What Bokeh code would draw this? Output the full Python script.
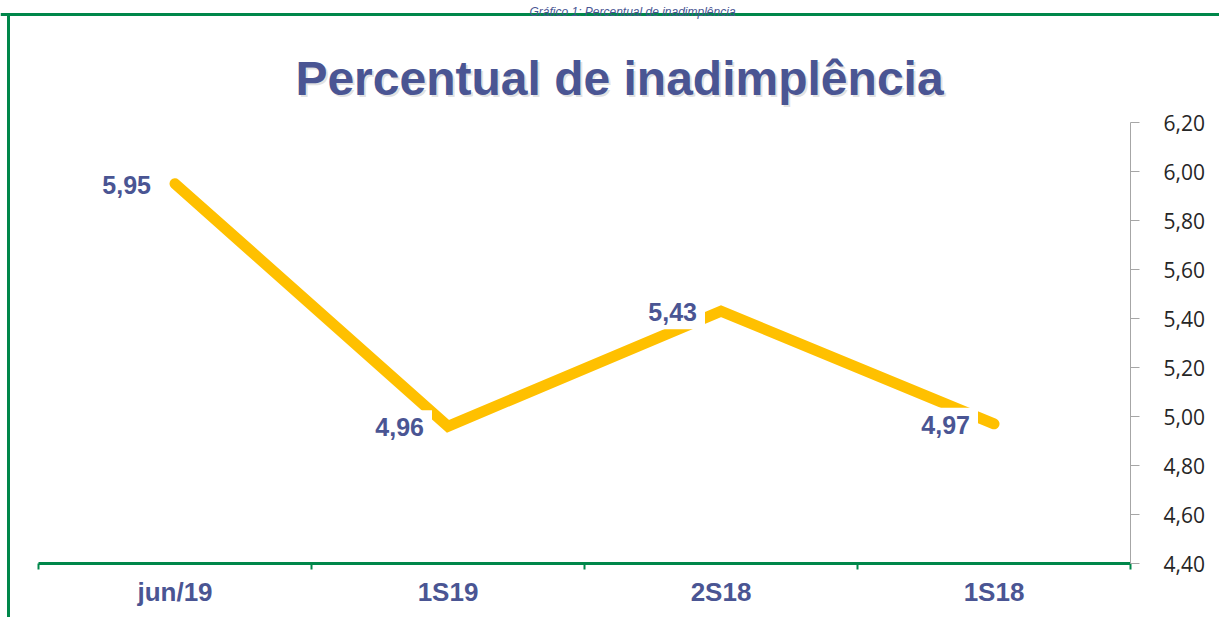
from bokeh.plotting import figure
from bokeh.models import Range1d, FixedTicker, CustomJSTickFormatter, ColumnDataSource
from bokeh.core.properties import value
from bokeh.embed import file_html
from bokeh.resources import INLINE

# ---- data ----
categories = ["jun/19", "1S19", "2S18", "1S18"]
inadimplencia = [5.95, 4.96, 5.43, 4.97]
y_ticks = [4.40, 4.60, 4.80, 5.00, 5.20, 5.40, 5.60, 5.80, 6.00, 6.20]
title_text = "Percentual de inadimplência"
caption_text = "Gráfico 1: Percentual de inadimplência"

BLUE = "#4A5593"
GREEN = "#00874A"
GOLD = "#FFC000"

W, H = 1219, 617
# pixel placement of the plotting area inside the canvas
PL, PR, PT, PB = 38, 1130, 122, 563
n = len(categories)
x_pos = [i + 0.5 for i in range(n)]
x_bounds = [float(i) for i in range(n + 1)]
y0, y1 = y_ticks[0], y_ticks[-1]
sx = (PR - PL) / n            # px per category
sy = (PB - PT) / (y1 - y0)    # px per unit

def dx(px):
    return (px - PL) / sx
def dy(py):
    return y0 + (PB - py) / sy

p = figure(width=W, height=H,
           x_range=Range1d(dx(0), dx(W)), y_range=Range1d(dy(H), dy(0)),
           y_axis_location="right", toolbar_location=None, output_backend="svg",
           min_border_left=0, min_border_right=0, min_border_top=0, min_border_bottom=0)
p.xgrid.visible = False
p.ygrid.visible = False
p.outline_line_color = None
p.background_fill_color = "white"
p.border_fill_color = "white"

# x axis (category axis drawn at y = 4.40)
xa = p.xaxis[0]
xa.fixed_location = y0
xa.bounds = (0, n)
xa.ticker = FixedTicker(ticks=x_pos, minor_ticks=x_bounds)
xa.formatter = CustomJSTickFormatter(args=dict(cats=categories),
                                     code="return cats[Math.floor(tick)];")
xa.axis_line_color = GREEN
xa.axis_line_width = 3
xa.major_tick_line_color = None
xa.major_tick_out = 0
xa.major_tick_in = 0
xa.minor_tick_line_color = GREEN
xa.minor_tick_line_width = 2
xa.minor_tick_out = 6
xa.minor_tick_in = 0
xa.major_label_standoff = 7
xa.major_label_text_font = "Liberation Sans"
xa.major_label_text_font_style = "bold"
xa.major_label_text_font_size = "26px"
xa.major_label_text_color = BLUE

# y axis (value axis on the right, drawn at the last category boundary)
ya = p.yaxis[0]
ya.fixed_location = n
ya.bounds = (y0, y1)
ya.ticker = FixedTicker(ticks=y_ticks)
ya.formatter = CustomJSTickFormatter(code="return tick.toFixed(2).replace('.', ',');")
ya.axis_line_color = "#A6A6A6"
ya.axis_line_width = 1
ya.major_tick_line_color = "#A6A6A6"
ya.major_tick_out = 9
ya.major_tick_in = 0
ya.minor_tick_line_color = None
ya.major_label_standoff = 24
ya.major_label_text_font = "Open Sans"
ya.major_label_text_font_size = "21px"
ya.major_label_text_color = "#262626"

# green frame (top and left edges)
p.segment(x0=[dx(0)], y0=[dy(14)], x1=[dx(W)], y1=[dy(14)], line_color=GREEN, line_width=3)
p.segment(x0=[dx(8)], y0=[dy(13)], x1=[dx(8)], y1=[dy(H)], line_color=GREEN, line_width=3)

# caption and title
p.text(x=[dx(632)], y=[dy(11)], text=[caption_text], text_align="center",
       text_baseline="alphabetic", text_font=value("Liberation Sans"),
       text_font_style="italic", text_font_size="12px", text_color=BLUE)
p.text(x=[dx(621)], y=[dy(80)], text=[title_text], text_align="center",
       text_baseline="alphabetic", text_font=value("Liberation Sans"),
       text_font_style="bold", text_font_size="48px", text_color="#8C8C8C", text_alpha=0.25)
p.text(x=[dx(619)], y=[dy(78)], text=[title_text], text_align="center",
       text_baseline="alphabetic", text_font=value("Liberation Sans"),
       text_font_style="bold", text_font_size="48px", text_color=BLUE)

# series
src = ColumnDataSource(dict(x=x_pos, y=inadimplencia,
                            lab=[f"{v:.2f}".replace(".", ",") for v in inadimplencia]))
p.line("x", "y", source=src, line_color=GOLD, line_width=11,
       line_cap="round", line_join="miter")
p.text("x", "y", text="lab", source=src, text_align="right", text_baseline="alphabetic",
       x_offset=-16, y_offset=1, text_font=value("Liberation Sans"), text_font_style="bold",
       text_font_size="25px", text_color=BLUE, background_fill_color="white", padding=8)

open("out.html", "w").write(file_html(p, INLINE))
